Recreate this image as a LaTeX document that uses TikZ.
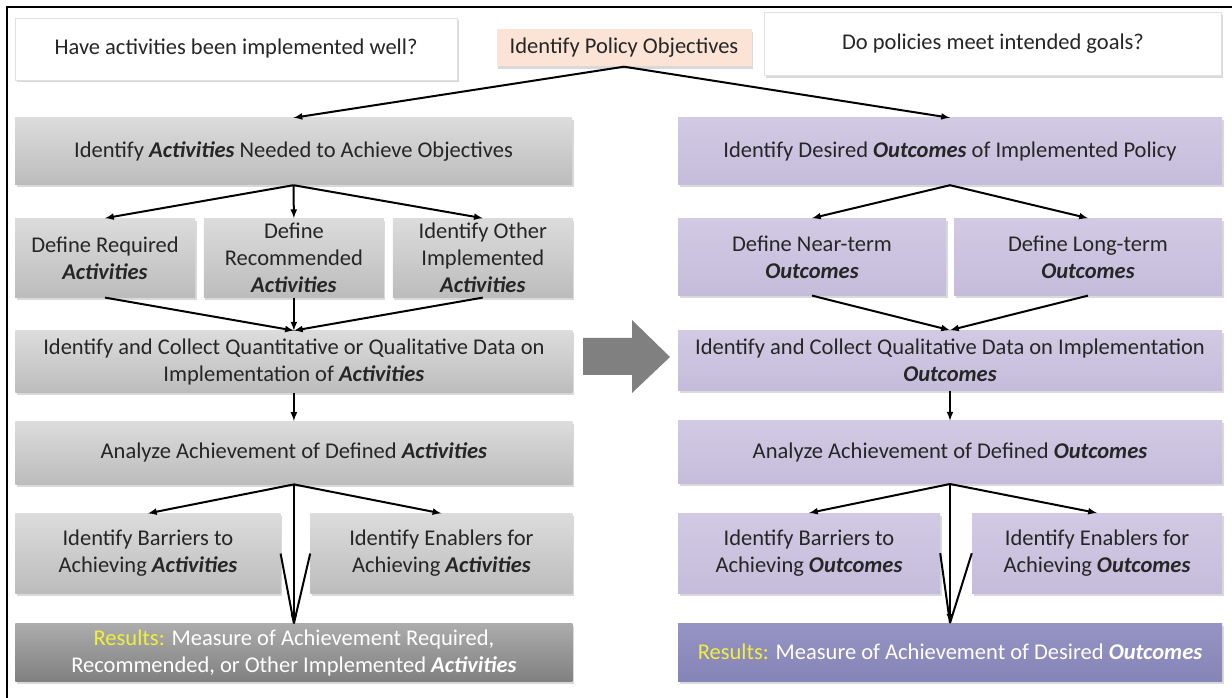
\documentclass[tikz,border=0pt]{standalone}
\usepackage{fontspec}
\setmainfont{Carlito}
\usetikzlibrary{positioning,shadows}
\definecolor{greytop}{RGB}{220,220,220}
\definecolor{greybot}{RGB}{188,188,188}
\definecolor{lavtop}{RGB}{210,202,228}
\definecolor{lavbot}{RGB}{196,188,218}
\definecolor{restop}{RGB}{172,172,172}
\definecolor{resbot}{RGB}{128,128,128}
\definecolor{ostop}{RGB}{150,148,196}
\definecolor{osbot}{RGB}{134,132,182}
\definecolor{peach}{RGB}{251,228,214}
\definecolor{resyellow}{RGB}{240,240,60}
\definecolor{bigarrow}{RGB}{128,128,128}
\newcommand{\Act}{\textbf{\textit{Activities}}}
\newcommand{\Outc}{\textbf{\textit{Outcomes}}}
\newcommand{\Res}{{\color{resyellow}Results:}}

\begin{document}
\begin{tikzpicture}[x=1pt,y=1pt]
 		\tikzstyle{main}=[rectangle, inner sep=2pt, align=center, text=black!85, font=\fontsize{22.5}{27}\selectfont, drop shadow={shadow xshift=1.5pt, shadow yshift=-2.5pt, opacity=0.3}]
 		\tikzstyle{grey}=[main, top color=greytop, bottom color=greybot]
 		\tikzstyle{lav}=[main, top color=lavtop, bottom color=lavbot]
 		\tikzstyle{ask}=[main, fill=white, draw=black!12]
 		\tikzstyle{connect}=[-latex, line width=2pt]
 		\tikzstyle{fork}=[line width=2pt]
 		\useasboundingbox (0,0) rectangle (1232,698);
 		\draw[line width=2pt] (1232,691) -- (7,691) -- (7,0);
 		\node[ask, minimum width=442pt, minimum height=62pt] (well) at (236,649) {Have activities been implemented well?};
 		\node[main, fill=peach, minimum width=255pt, minimum height=37pt] (pol) at (624,650) {Identify Policy Objectives};
 		\node[ask, minimum width=457pt, minimum height=63pt] (goals) at (993,654) {Do policies meet intended goals?};
 			\node[grey, minimum width=557pt, minimum height=67pt] (act) at (293.5,546.5) {Identify \Act{} Needed to Achieve Objectives};
 				\node[grey, minimum width=180pt, minimum height=79pt] (req) [below right=33pt and 0pt of act.south west] {Define Required\\ \Act};
 				\node[grey, minimum width=180pt, minimum height=79pt] (rec) [right=8.5pt of req] {Define\\ Recommended\\ \Act};
 				\node[grey, minimum width=180pt, minimum height=79pt] (oth) [right=8.5pt of rec] {Identify Other\\ Implemented\\ \Act};
 					\node[grey, minimum width=557pt, minimum height=62pt] (col) [below=33pt of rec] {Identify and Collect Quantitative or Qualitative Data on\\ Implementation of \Act};
 						\node[grey, minimum width=557pt, minimum height=63pt] (ana) [below=28pt of col] {Analyze Achievement of Defined \Act};
 							\node[grey, minimum width=265pt, minimum height=80pt] (bar) [below right=29pt and 0pt of ana.south west] {Identify Barriers to\\ Achieving \Act};
 							\node[grey, minimum width=262pt, minimum height=80pt] (ena) [below left=29pt and 0pt of ana.south east] {Identify Enablers for\\ Achieving \Act};
 								\node[main, top color=restop, bottom color=resbot, text=white, minimum width=557pt, minimum height=58pt] (res) [below=139pt of ana] {\Res{} Measure of Achievement Required,\\ Recommended, or Other Implemented \Act};
 			\node[lav, minimum width=544pt, minimum height=67pt] (out) at (950,546.5) {Identify Desired \Outc{} of Implemented Policy};
 				\node[lav, minimum width=268pt, minimum height=77pt] (near) [below right=33pt and 0pt of out.south west] {Define Near-term\\ \Outc};
 				\node[lav, minimum width=268pt, minimum height=77pt] (long) [below left=33pt and 0pt of out.south east] {Define Long-term\\ \Outc};
 					\node[lav, minimum width=544pt, minimum height=60pt] (ocol) [below=145pt of out] {Identify and Collect Qualitative Data on Implementation\\ \Outc};
 						\node[lav, minimum width=544pt, minimum height=63pt] (oana) [below=30pt of ocol] {Analyze Achievement of Defined \Outc};
 							\node[lav, minimum width=262pt, minimum height=80pt] (obar) [below right=29pt and 0pt of oana.south west] {Identify Barriers to\\ Achieving \Outc};
 							\node[lav, minimum width=250pt, minimum height=80pt] (oena) [below left=29pt and 0pt of oana.south east] {Identify Enablers for\\ Achieving \Outc};
 								\node[main, top color=ostop, bottom color=osbot, text=white, minimum width=544pt, minimum height=58pt] (ores) [below=139pt of oana] {\Res{} Measure of Achievement of Desired \Outc};
 		\fill[bigarrow] (583,360) -- (632,360) -- (632,378) -- (670,341) -- (632,305) -- (632,323) -- (583,323) -- cycle;

  		\path (pol.south) edge [connect] (act.north)
  			(pol.south) edge [connect] (out.north)
  				(act.south) edge [connect] (req.north)
  				(act.south) edge [connect] (rec.north)
  				(act.south) edge [connect] (oth.north)
  					(req.south) edge [connect] (col.north)
  					(rec.south) edge [connect] (col.north)
  					(oth.south) edge [connect] (col.north)
  						(col.south) edge [connect] (ana.north)
  							(ana.south) edge [connect] (bar.north)
  							(ana.south) edge [connect] (ena.north)
  							(ana.south) edge [connect] (res.north)
  								(bar.east) edge [fork] (res.north)
  								(ena.west) edge [fork] (res.north);
  		\path (out.south) edge [connect] (near.north)
  			(out.south) edge [connect] (long.north)
  				(near.south) edge [connect] (ocol.north)
  				(long.south) edge [connect] (ocol.north)
  					(ocol.south) edge [connect] (oana.north)
  						(oana.south) edge [connect] (obar.north)
  						(oana.south) edge [connect] (oena.north)
  						(oana.south) edge [connect] (ores.north)
  							(obar.east) edge [fork] (ores.north)
  							(oena.west) edge [fork] (ores.north);
 	 		\end{tikzpicture}
\end{document}
